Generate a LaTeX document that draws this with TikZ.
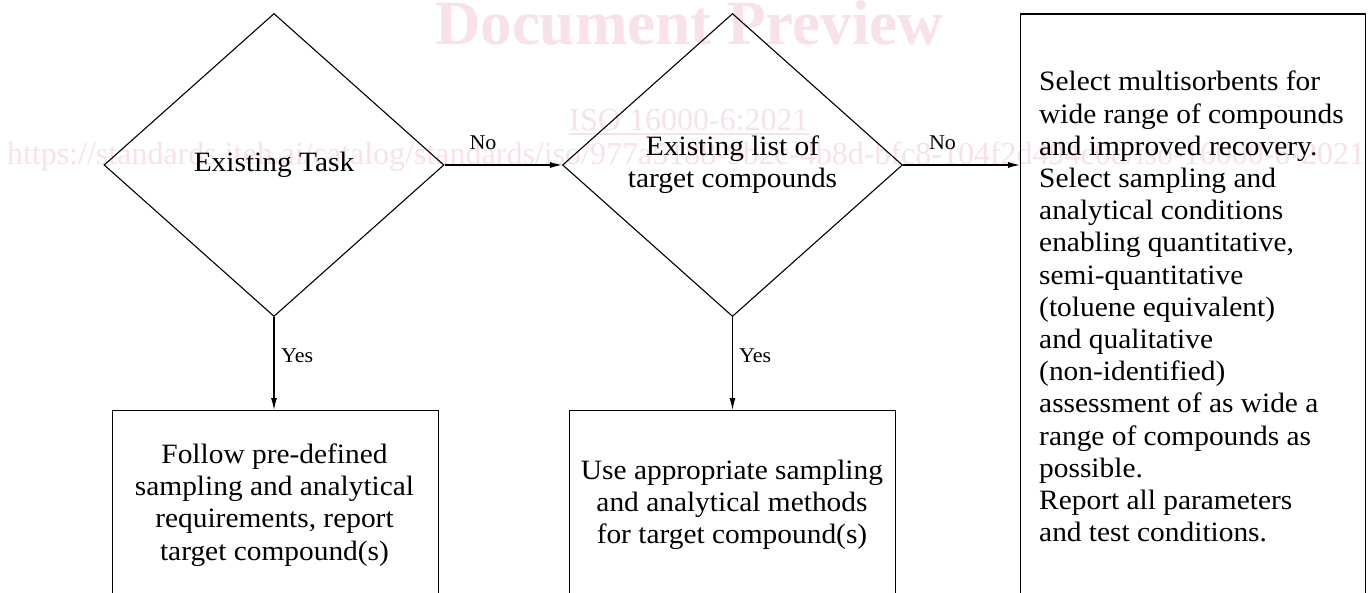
\documentclass[tikz,border=0pt]{standalone}
\usepackage{fontspec}
\setmainfont{Liberation Serif}
\newfontfamily\diafont[FakeStretch=1.05]{Liberation Serif}
\usetikzlibrary{shapes.geometric,arrows.meta}
\definecolor{wmpink}{RGB}{249,225,232}
\begin{document}
\begin{tikzpicture}[x=1pt,y=-1pt,
  main/.style={font=\diafont\fontsize{28}{32.2}\selectfont},
  lbl/.style={font=\diafont\fontsize{21}{24}\selectfont, inner sep=0},
  decision/.style={draw, diamond, minimum width=340pt, minimum height=303pt, inner sep=0, line width=1.1pt, align=center, main},
  stepbox/.style={draw, rectangle, line width=1.1pt, inner sep=0, anchor=north west},
  boxtext/.style={main, inner sep=0},
  flow/.style={line width=1.1pt, -{Latex[length=12pt,width=6pt]}},
  wm/.style={text=wmpink, inner sep=0}]
\useasboundingbox (0,0) rectangle (1370,593);
\clip (0,0) rectangle (1370,593);
\fill[white] (0,0) rectangle (1370,593);
% watermark
\node[wm, font=\bfseries\fontsize{63}{70}\selectfont, anchor=base] (wm1) at (689,45) {Document Preview};
\node[wm, font=\fontsize{32}{36}\selectfont, anchor=base] (wm2) at (689,131) {ISO 16000-6:2021};
\draw[wmpink, line width=1.5pt] ([yshift=-3pt]wm2.base west) -- ([yshift=-3pt]wm2.base east);
\node[wm, font=\fontsize{32}{36}\selectfont, anchor=base] (wm3) at (686,165) {https://standards.iteh.ai/catalog/standards/iso/977a5188-9b2c-4b8d-bfc8-104f2d494c0d/iso-16000-6-2021};
% decisions
\node[decision] (d1) at (274,165) {Existing Task};
\node[decision] (d2) at (732.5,165) {Existing list of\\target compounds};
% boxes
\node[stepbox, minimum width=326pt, minimum height=260pt] (b1) at (111.5,410) {};
\node[stepbox, minimum width=326pt, minimum height=260pt] (b2) at (569,410) {};
\node[stepbox, minimum width=345pt, minimum height=640pt] (bb) at (1020,13.5) {};
% box texts
\node[boxtext, anchor=north, align=center] (t1) at (274.5,443.3) {\rule{0pt}{20pt}Follow pre-defined\\sampling and analytical\\requirements, report\\target compound(s)};
\node[boxtext, anchor=north, align=center] (t2) at (732,459) {\rule{0pt}{20pt}Use appropriate sampling\\and analytical methods\\for target compound(s)};
\node[boxtext, anchor=north west, align=left] (t3) at (1039,70.7) {\rule{0pt}{20pt}Select multisorbents for\\wide range of compounds\\and improved recovery.\\Select sampling and\\analytical conditions\\enabling quantitative,\\semi-quantitative\\(toluene equivalent)\\and qualitative\\(non-identified)\\assessment of as wide a\\range of compounds as\\possible.\\Report all parameters\\and test conditions.};
% connectors
\draw[flow] (d1.east) -- (d2.west);
\draw[flow] (d2.east) -- (d2.east -| bb.west);
\draw[flow] (d1.south) -- (d1.south |- b1.north);
\draw[flow] (d2.south) -- (d2.south |- b2.north);
% labels
\node[lbl, anchor=base] (no1) at (483,150) {No};
\node[lbl, anchor=base] (no2) at (942.5,150) {No};
\node[lbl, anchor=base west] (yes1) at (281,362.7) {Yes};
\node[lbl, anchor=base west] (yes2) at (739,362.7) {Yes};
\end{tikzpicture}
\end{document}
